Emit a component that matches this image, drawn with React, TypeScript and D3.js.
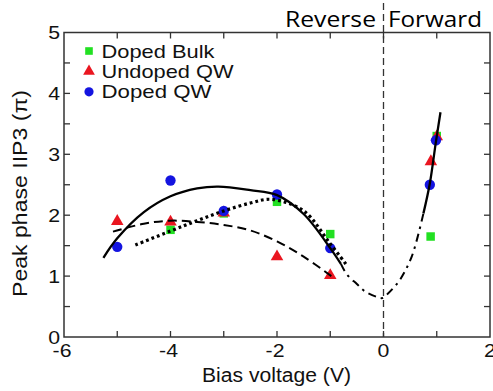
import React, { useEffect, useRef } from "react";
import * as d3 from "d3";

// measured data (bias voltage V, peak phase in units of pi)
const bulkV = [-4, -3, -2, -1, 0.885, 1.0];
const bulkP = [1.76, 2.03, 2.22, 1.69, 1.65, 3.3];
const undopedV = [-5, -4, -3, -2, -1, 0.89, 1.0];
const undopedP = [1.9, 1.89, 2.04, 1.32, 1.01, 2.88, 3.29];
const dopedV = [-5, -4, -3, -2, -1, 0.87, 0.985];
const dopedP = [1.48, 2.57, 2.07, 2.34, 1.46, 2.5, 3.23];

// fit curves
const solidV = [-5.26, -5, -4.5, -4, -3.5, -3.1, -2.5, -2, -1.5, -1, -0.8];
const solidP = [1.3, 1.62, 2.05, 2.31, 2.44, 2.47, 2.41, 2.33, 2.02, 1.46, 1.2];
const dottedV = [-4.66, -4, -3.5, -3, -2.5, -2.1, -1.5, -1, -0.69];
const dottedP = [1.51, 1.74, 1.91, 2.07, 2.2, 2.26, 2.07, 1.53, 1.18];
const dashedV = [-5.08, -4.5, -4, -3.5, -3, -2.5, -2, -1.5, -0.98];
const dashedP = [1.73, 1.86, 1.91, 1.89, 1.84, 1.75, 1.57, 1.32, 1.0];
const dashDotV = [-0.8, -0.69, -0.5, -0.35, -0.13, -0.02, 0.08, 0.2, 0.31, 0.53, 0.75];
const dashDotP = [1.2, 1.03, 0.87, 0.75, 0.66, 0.64, 0.71, 0.82, 0.94, 1.32, 2.03];
const fwdV = [0.75, 0.87, 0.98, 1.07];
const fwdP = [2.03, 2.52, 3.18, 3.69];

const xTicks = [-6, -4, -2, 0, 2];
const yTicks = [0, 1, 2, 3, 4, 5];

const legendItems = [
  { label: "Doped Bulk", symbol: d3.symbolSquare, color: "#22e022", len: 113 },
  { label: "Undoped QW", symbol: d3.symbolTriangle, color: "#ea1620", len: 132 },
  { label: "Doped QW", symbol: d3.symbolCircle, color: "#1414e0", len: 110 },
];

const W = 493;
const H = 391;
const margin = { left: 64, right: 3, top: 32.5, bottom: 54 };

const App = () => {
  const ref = useRef(null);

  useEffect(() => {
    const svg = d3.select(ref.current);
    svg.selectAll("*").remove();

    const x = d3.scaleLinear().domain([-6, 2]).range([margin.left, W - margin.right]);
    const y = d3.scaleLinear().domain([0, 5]).range([H - margin.bottom, margin.top]);
    const font = "'Liberation Sans', Arial, sans-serif";

    // zero-bias divider
    svg
      .append("line")
      .attr("x1", x(0))
      .attr("x2", x(0))
      .attr("y1", 3)
      .attr("y2", y(0))
      .attr("stroke", "#333")
      .attr("stroke-width", 1.3)
      .attr("stroke-dasharray", "7,4");

    // frame
    svg
      .append("rect")
      .attr("x", x(-6))
      .attr("y", y(5))
      .attr("width", x(2) - x(-6))
      .attr("height", y(0) - y(5))
      .attr("fill", "none")
      .attr("stroke", "#333")
      .attr("stroke-width", 1.5);

    // inward ticks
    const tk = 6;
    const xMinor = d3.range(-5, 2, 1);
    xMinor.forEach((v) => {
      svg.append("line").attr("x1", x(v)).attr("x2", x(v)).attr("y1", y(0)).attr("y2", y(0) - tk).attr("stroke", "#333").attr("stroke-width", 1.3);
      svg.append("line").attr("x1", x(v)).attr("x2", x(v)).attr("y1", y(5)).attr("y2", y(5) + tk).attr("stroke", "#333").attr("stroke-width", 1.3);
    });
    const yMinor = d3.range(0.5, 5, 0.5);
    yMinor.forEach((v) => {
      svg.append("line").attr("x1", x(-6)).attr("x2", x(-6) + tk).attr("y1", y(v)).attr("y2", y(v)).attr("stroke", "#333").attr("stroke-width", 1.3);
      svg.append("line").attr("x1", x(2)).attr("x2", x(2) - tk).attr("y1", y(v)).attr("y2", y(v)).attr("stroke", "#333").attr("stroke-width", 1.3);
    });

    // tick labels (source image is slightly stretched horizontally)
    svg
      .selectAll(".xl")
      .data(xTicks)
      .join("text")
      .attr("transform", (d) => `translate(${x(d) - (d < 0 ? 2 : 0)},357) scale(1.15,1)`)
      .attr("text-anchor", "middle")
      .style("font-family", font)
      .style("font-size", "18.5px")
      .attr("fill", "#111")
      .text((d) => String(d));
    svg
      .selectAll(".yl")
      .data(yTicks)
      .join("text")
      .attr("transform", (d) => `translate(60,${y(d)}) scale(1.15,1)`)
      .attr("dy", "0.36em")
      .attr("text-anchor", "end")
      .style("font-family", font)
      .style("font-size", "18.5px")
      .attr("fill", "#111")
      .text((d) => String(d));

    // axis titles
    svg
      .append("text")
      .attr("x", 276.5)
      .attr("y", 382)
      .attr("text-anchor", "middle")
      .attr("textLength", 149)
      .attr("lengthAdjust", "spacingAndGlyphs")
      .style("font-family", font)
      .style("font-size", "20px")
      .attr("fill", "#111")
      .text("Bias voltage (V)");
    svg
      .append("text")
      .attr("transform", `translate(27, 193.5) rotate(-90)`)
      .attr("text-anchor", "middle")
      .attr("textLength", 207)
      .attr("lengthAdjust", "spacingAndGlyphs")
      .style("font-family", font)
      .style("font-size", "20px")
      .attr("fill", "#111")
      .text("Peak phase IIP3 (π)");

    // region labels
    svg
      .append("text")
      .attr("x", 285)
      .attr("y", 26.7)
      .attr("textLength", 91)
      .attr("lengthAdjust", "spacingAndGlyphs")
      .style("font-family", "'Open Sans', sans-serif")
      .style("font-size", "22px")
      .attr("fill", "#000")
      .text("Reverse");
    svg
      .append("text")
      .attr("x", 388)
      .attr("y", 26.7)
      .attr("textLength", 94)
      .attr("lengthAdjust", "spacingAndGlyphs")
      .style("font-family", "'Open Sans', sans-serif")
      .style("font-size", "22px")
      .attr("fill", "#000")
      .text("Forward");

    // markers
    const sym = (type: any, size: number) => d3.symbol().type(type).size(size)();
    const plot = (vs: number[], ps: number[], type: any, size: number, color: string) => {
      svg
        .append("g")
        .selectAll("path")
        .data(vs.map((v, i) => [v, ps[i]]))
        .join("path")
        .attr("d", sym(type, size))
        .attr("transform", (d: any) => `translate(${x(d[0])},${y(d[1])})`)
        .attr("fill", color);
    };
    plot(bulkV, bulkP, d3.symbolSquare, 72, legendItems[0].color);
    plot(undopedV, undopedP, d3.symbolTriangle, 68, legendItems[1].color);
    plot(dopedV, dopedP, d3.symbolCircle, 84, legendItems[2].color);

    // fit curves
    const line = d3
      .line<number[]>()
      .x((d) => x(d[0]))
      .y((d) => y(d[1]))
      .curve(d3.curveCatmullRom);
    const curve = (vs: number[], ps: number[], dash: string | null, w: number) => {
      svg
        .append("path")
        .attr("d", line(vs.map((v, i) => [v, ps[i]])))
        .attr("fill", "none")
        .attr("stroke", "#000")
        .attr("stroke-width", w)
        .attr("stroke-dasharray", dash);
    };
    curve(solidV, solidP, null, 2.3);
    curve(dottedV, dottedP, "2.8,3", 3.2);
    curve(dashedV, dashedP, "9,5", 2);
    curve(dashDotV, dashDotP, "8,5,2.5,5", 2);
    curve(fwdV, fwdP, null, 2.3);

    // legend
    const lg = svg.append("g");
    legendItems.forEach((it, i) => {
      const cy = 51 + i * 20.4;
      lg.append("path")
        .attr("d", sym(it.symbol, i === 0 ? 58 : i === 1 ? 60 : 66))
        .attr("transform", `translate(89,${cy})`)
        .attr("fill", it.color);
      lg.append("text")
        .attr("x", 101.5)
        .attr("y", cy + 6.5)
        .attr("textLength", it.len)
        .attr("lengthAdjust", "spacingAndGlyphs")
        .style("font-family", font)
        .style("font-size", "19px")
        .attr("fill", "#111")
        .text(it.label);
    });
  }, []);

  return (
    <div style={{ position: "absolute", left: 0, top: 0, width: W, height: H, background: "#fff" }}>
      <svg ref={ref} width={W} height={H}></svg>
    </div>
  );
};

export default App;
